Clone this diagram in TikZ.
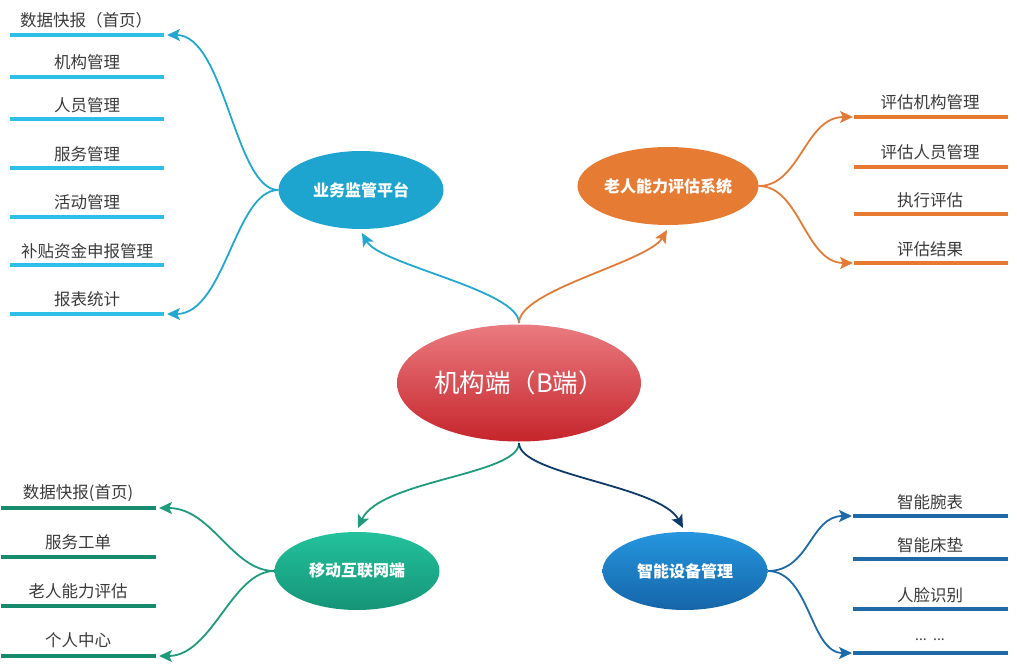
\documentclass[tikz,border=0pt]{standalone}
\usepackage{fontspec}
\setmainfont{Noto Sans CJK SC}
\usetikzlibrary{arrows.meta,shapes.geometric}
\definecolor{cyanE}{HTML}{1DA5D0}
\definecolor{cyanLine}{HTML}{2DBFE8}
\definecolor{cyanConn}{HTML}{22A8D0}
\definecolor{orangeE}{HTML}{E67C34}
\definecolor{orangeLine}{HTML}{E57A30}
\definecolor{orangeConn}{HTML}{E37B38}
\definecolor{centerTop}{HTML}{EA7B80}
\definecolor{centerBot}{HTML}{C5252B}
\definecolor{greenTop}{HTML}{22C29C}
\definecolor{greenBot}{HTML}{169478}
\definecolor{greenLine}{HTML}{168B6D}
\definecolor{greenConn}{HTML}{1E9A7C}
\definecolor{blueTop}{HTML}{2596DE}
\definecolor{blueBot}{HTML}{1565A8}
\definecolor{blueLine}{HTML}{1F6AA6}
\definecolor{blueConn}{HTML}{1E6AA6}
\definecolor{darkConn}{HTML}{0D3A6B}
\definecolor{txt}{HTML}{3A3A3A}
\tikzset{
  sub/.style={inner sep=0pt, text=txt, font=\fontsize{16.5}{18}\selectfont},
  topic/.style={ellipse, inner sep=0pt, minimum width=165pt, minimum height=78pt,
    text=white, font=\fontsize{16}{18}\selectfont\bfseries},
  bar/.style={line width=4.5pt},
  conn/.style={line width=1.8pt, -{Stealth[length=13pt,width=12pt,inset=3pt]}},
}
\begin{document}
\begin{tikzpicture}[x=1pt,y=-1pt]
\useasboundingbox (0,0) rectangle (1017,668);

% central node
\node[ellipse, inner sep=0pt, minimum width=244pt, minimum height=117pt,
  top color=centerTop, bottom color=centerBot, text=white,
  font=\fontsize{25.5}{28}\selectfont] (C) at (519,383) {机构端（B端）};

% topic nodes
\node[topic, fill=cyanE] (T1) at (361,190) {业务监管平台};
\node[topic, fill=orangeE] (T2) at (668,186) {老人能力评估系统};
\node[topic, top color=greenTop, bottom color=greenBot] (T3) at (357,571) {移动互联网端};
\node[topic, top color=blueTop, bottom color=blueBot] (T4) at (685,571) {智能设备管理};

% top-left items
\node[sub] (a1) at (86,20) {数据快报（首页）};
\node[sub] (a2) at (87,62) {机构管理};
\node[sub] (a3) at (87,105) {人员管理};
\node[sub] (a4) at (87,154) {服务管理};
\node[sub] (a5) at (87,202) {活动管理};
\node[sub] (a6) at (87,251) {补贴资金申报管理};
\node[sub] (a7) at (87,299) {报表统计};
\foreach \y in {35,77,119,168,217,265,314}
  \draw[bar, cyanLine] (10,\y) -- (164,\y);
\coordinate (a1e) at (167,35);
\coordinate (a7e) at (167,314);

% top-right items
\node[sub] (b1) at (930,102) {评估机构管理};
\node[sub] (b2) at (930,152) {评估人员管理};
\node[sub] (b3) at (930,200) {执行评估};
\node[sub] (b4) at (930,249) {评估结果};
\foreach \y in {117,167,214,263}
  \draw[bar, orangeLine] (854,\y) -- (1008,\y);
\coordinate (b1e) at (853,117);
\coordinate (b4e) at (853,263);

% bottom-left items
\node[sub] (c1) at (78,493) {数据快报(首页)};
\node[sub] (c2) at (78,542) {服务工单};
\node[sub] (c3) at (78,591) {老人能力评估};
\node[sub] (c4) at (78,640) {个人中心};
\foreach \y in {508,557,606,656}
  \draw[bar, greenLine] (1,\y) -- (156,\y);
\coordinate (c1e) at (159,508);
\coordinate (c4e) at (159,656);

% bottom-right items
\node[sub] (d1) at (930,502) {智能腕表};
\node[sub] (d2) at (930,545) {智能床垫};
\node[sub] (d3) at (930,595) {人脸识别};
\node[sub, font=\fontsize{14}{16}\selectfont] (d4) at (930,640) {...\ \ ...};
\foreach \y in {516,559,609,653}
  \draw[bar, blueLine] (853,\y) -- (1008,\y);
\coordinate (d1e) at (852,516);
\coordinate (d4e) at (852,653);

% center to topics
\coordinate (Ctop) at (519,323);
\coordinate (Cbot) at (519,443);
\draw[conn, cyanConn] (Ctop) .. controls (519,290) and (380,265) .. (362,233);
\draw[conn, orangeConn] (Ctop) .. controls (519,290) and (648,262) .. (667,230);
\draw[conn, greenConn] (Cbot) .. controls (519,475) and (380,480) .. (358,528);
\draw[conn, darkConn] (Cbot) .. controls (519,475) and (660,485) .. (683,528);

% topics to items
\draw[conn, cyanConn] (T1.west) .. controls (235,190) and (225,35) .. (a1e);
\draw[conn, cyanConn] (T1.west) .. controls (235,190) and (225,314) .. (a7e);
\draw[conn, orangeConn] (T2.east) .. controls (800,186) and (805,117) .. (b1e);
\draw[conn, orangeConn] (T2.east) .. controls (800,186) and (805,263) .. (b4e);
\draw[conn, greenConn] (T3.west) .. controls (232,571) and (212,508) .. (c1e);
\draw[conn, greenConn] (T3.west) .. controls (232,571) and (212,656) .. (c4e);
\draw[conn, blueConn] (T4.east) .. controls (810,571) and (810,516) .. (d1e);
\draw[conn, blueConn] (T4.east) .. controls (810,571) and (810,653) .. (d4e);
\end{tikzpicture}
\end{document}
